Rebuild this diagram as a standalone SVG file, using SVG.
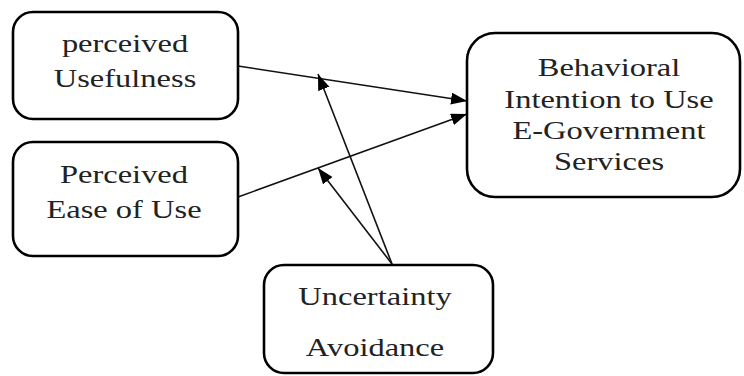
<svg xmlns="http://www.w3.org/2000/svg" width="744" height="376" viewBox="0 0 744 376">
<style>
.box{fill:#fff;stroke:#000;stroke-width:2.6}
.lbl{font-family:"Liberation Serif","Times New Roman",serif;font-size:25px;fill:#222;text-anchor:middle}
.con{stroke:#111;stroke-width:1.6;fill:none;marker-end:url(#ah)}
</style>
<defs>
<marker id="ah" markerUnits="userSpaceOnUse" markerWidth="18" markerHeight="14" refX="16" refY="6" orient="auto">
<path d="M0,0 L16,6 L0,12 Z" fill="#000"/>
</marker>
</defs>
<rect width="744" height="376" fill="#fff"/>
<g id="connectors">
<line class="con" x1="238" y1="66" x2="467" y2="101"/>
<line class="con" x1="238" y1="197" x2="467" y2="114"/>
<line class="con" x1="392" y1="264" x2="318" y2="74"/>
<line class="con" x1="392" y1="264" x2="318" y2="168"/>
</g>
<g id="node-usefulness">
<rect class="box" x="13" y="12" width="225" height="107" rx="20"/>
<text class="lbl" transform="translate(125,52) scale(1.3,1)">perceived</text>
<text class="lbl" transform="translate(125,87) scale(1.3,1)">Usefulness</text>
</g>
<g id="node-ease">
<rect class="box" x="13" y="142" width="225" height="114" rx="20"/>
<text class="lbl" transform="translate(124,183) scale(1.3,1)">Perceived</text>
<text class="lbl" transform="translate(124,218) scale(1.3,1)">Ease of Use</text>
</g>
<g id="node-intention">
<rect class="box" x="467" y="33" width="273" height="164" rx="28"/>
<text class="lbl" transform="translate(609,76) scale(1.3,1)">Behavioral</text>
<text class="lbl" transform="translate(609,108) scale(1.3,1)">Intention to Use</text>
<text class="lbl" transform="translate(609,139) scale(1.3,1)">E-Government</text>
<text class="lbl" transform="translate(609,170) scale(1.3,1)">Services</text>
</g>
<g id="node-uncertainty">
<rect class="box" x="264" y="265" width="229" height="108" rx="20"/>
<text class="lbl" transform="translate(375,305) scale(1.3,1)">Uncertainty</text>
<text class="lbl" transform="translate(375,356) scale(1.3,1)">Avoidance</text>
</g>
</svg>
